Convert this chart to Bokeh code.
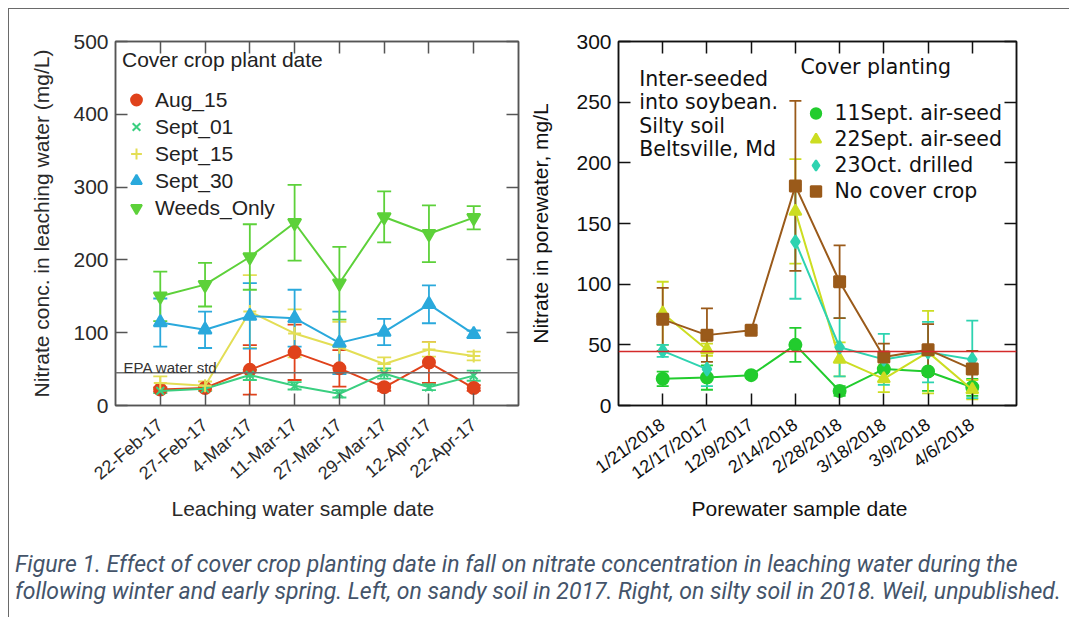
import math
from bokeh.plotting import figure
from bokeh.models import (Range1d, LinearAxis, FixedTicker, Whisker, TeeHead, Title,
                          ColumnDataSource, Legend, LegendItem, Span, Label, Div)
from bokeh.layouts import row, column
from bokeh.embed import file_html
from bokeh.resources import INLINE

NaN = float("nan")

# ---------------- Left panel data (sandy soil, 2017) ----------------
left_dates = ["22-Feb-17", "27-Feb-17", "4-Mar-17", "11-Mar-17",
              "27-Mar-17", "29-Mar-17", "12-Apr-17", "22-Apr-17"]
aug_15 = [22, 24, 49, 73, 51, 25, 59, 24]
aug_15_err = [3, 3, 34, 38, 25, 5, 28, 4]
sept_01 = [20, 23, 42, 27, 16, 44, 25, 41]
sept_01_err = [3, 3, 7, 5, 5, 7, 4, 7]
sept_15 = [31, 27, 129, 99, 80, 57, 77, 68]
sept_15_err = [9, 6, 50, 33, 35, 9, 10, 6]
sept_30 = [114, 104, 123, 120, 86, 101, 139, 98]
sept_30_err = [33, 25, 45, 39, 43, 18, 26, 5]
weeds_only = [150, 166, 204, 251, 168, 259, 236, 258]
weeds_only_err = [34, 30, 45, 52, 50, 35, 39, 16]
left_yticks = [0, 100, 200, 300, 400, 500]
epa_std = 45

# ---------------- Right panel data (silty soil, 2018) ----------------
right_dates = ["1/21/2018", "12/17/2017", "12/9/2017", "2/14/2018",
               "2/28/2018", "3/18/2018", "3/9/2018", "4/6/2018"]
sept11_air = [22, 23, 25, 50, 12, 30, 28, 15]
sept11_air_err = [6, 10, 2, 14, 4, 10, 16, 7]
sept22_air = [76, 46, NaN, 160, 38, 22, 44, 13]
sept22_air_err = [26, 5, NaN, 43, 14, 11, 34, 8]
oct23_drilled = [45, 30, NaN, 135, 48, 38, 44, 38]
oct23_drilled_err = [5, 14, NaN, 47, 24, 21, 25, 32]
no_cover = [71, 58, 62, 181, 102, 40, 46, 30]
no_cover_err = [26, 22, 2, 70, 30, 11, 21, 15]
right_yticks = [0, 50, 100, 150, 200, 250, 300]
porewater_std = 44.5

AX_FONT = "Liberation Sans"
LEG_FONT = "DejaVu Sans"


def style_axis(ax, color, text_color, size="21px"):
    ax.axis_line_color = color
    ax.axis_line_width = 1.5
    ax.major_tick_line_color = color
    ax.major_tick_line_width = 1.5
    ax.major_tick_in = 12
    ax.major_tick_out = 0
    ax.minor_tick_line_color = None
    ax.major_label_text_font = AX_FONT
    ax.major_label_text_font_size = size
    ax.major_label_text_color = text_color
    ax.major_label_standoff = 7
    ax.axis_label_text_font = AX_FONT
    ax.axis_label_text_font_size = "21px"
    ax.axis_label_text_font_style = "normal"
    ax.axis_label_text_color = text_color
    ax.axis_label_standoff = 14


def mirror(p, side, ticks, color):
    ax = LinearAxis(ticker=FixedTicker(ticks=ticks),
                    major_label_overrides={t: "" for t in ticks})
    style_axis(ax, color, color, size="1px")
    ax.major_label_standoff = 0
    p.add_layout(ax, side)


def build(p, xs, dates, yticks, color, text_color, xlabel, xlabel_offset, ylabel, orient, ylab_standoff):
    bx = p.below[0]
    ly = p.left[0]
    bx.ticker = FixedTicker(ticks=xs)
    bx.major_label_overrides = {x: d for x, d in zip(xs, dates)}
    ly.ticker = FixedTicker(ticks=yticks)
    style_axis(bx, color, text_color, size="18px")
    style_axis(ly, color, text_color)
    bx.major_label_orientation = orient
    bx.major_label_standoff = 17
    ly.axis_label_standoff = ylab_standoff
    ly.axis_label = ylabel
    # x-axis title below the tick labels, shifted as in the reference
    p.add_layout(Title(text=xlabel, align="left", offset=xlabel_offset, text_font=AX_FONT,
                       text_font_size="21px", text_font_style="normal", text_color=text_color,
                       standoff=0), "below")
    mirror(p, "above", xs, color)
    mirror(p, "right", yticks, color)
    p.xgrid.visible = False
    p.ygrid.visible = False
    p.outline_line_color = color
    p.outline_line_width = 1.5
    p.background_fill_color = "white"
    p.border_fill_color = "white"


def add_series(p, xs, vals, errs, color, marker, size, cap):
    lo = [v - e for v, e in zip(vals, errs)]
    hi = [v + e for v, e in zip(vals, errs)]
    src = ColumnDataSource(dict(x=xs, y=vals, lo=lo, hi=hi))
    p.add_layout(Whisker(source=src, base="x", upper="hi", lower="lo",
                         line_color=color, line_width=1.8,
                         upper_head=TeeHead(size=cap, line_color=color, line_width=1.8),
                         lower_head=TeeHead(size=cap, line_color=color, line_width=1.8)))
    p.line("x", "y", source=src, line_color=color, line_width=2)
    r = p.scatter("x", "y", source=src, marker=marker, size=size,
                  fill_color=color, line_color=color, line_width=2)
    return r


# ---------------- Left figure ----------------
xs = list(range(1, 9))
p1 = figure(width=517, height=510, x_range=Range1d(0, 9), y_range=Range1d(0, 500),
            output_backend="svg", toolbar_location=None,
            min_border_left=106, min_border_right=8, min_border_top=32, min_border_bottom=108)
build(p1, xs, left_dates, left_yticks, "#555555", "#2a2a2a",
      "Leaching water sample date", 56,
      "Nitrate conc. in leaching water (mg/L)", 0.70, 17)

p1.add_layout(Span(location=epa_std, dimension="width", line_color="#707070", line_width=1.5))
p1.add_layout(Label(x=0.18, y=epa_std + 7, text="EPA water std", text_font=AX_FONT,
                    text_font_size="15px", text_color="#333333", text_baseline="alphabetic"))

left_series = [
    ("Aug_15", aug_15, aug_15_err, "#E0421B", "circle", 12),
    ("Sept_01", sept_01, sept_01_err, "#3ACF80", "x", 11),
    ("Sept_15", sept_15, sept_15_err, "#E3DE55", "cross", 13),
    ("Sept_30", sept_30, sept_30_err, "#2AA9DC", "triangle", 13),
    ("Weeds_Only", weeds_only, weeds_only_err, "#5DD13A", "inverted_triangle", 13),
]
items1 = []
for name, v, e, c, m, s in left_series:
    r = add_series(p1, xs, v, e, c, m, s, 14)
    items1.append(LegendItem(label=name, renderers=[r]))

leg1 = Legend(items=items1, location="top_left", title="Cover crop plant date",
              title_text_font=AX_FONT, title_text_font_size="21px",
              title_text_font_style="normal", title_text_color="#222222",
              label_text_font=AX_FONT, label_text_font_size="21px", label_text_color="#222222",
              glyph_width=28, glyph_height=27, label_height=27, spacing=0,
              label_standoff=5, padding=7, margin=0, title_standoff=14,
              background_fill_alpha=0, border_line_alpha=0)
p1.add_layout(leg1)

# ---------------- Right figure ----------------
p2 = figure(width=534, height=510, x_range=Range1d(0, 9), y_range=Range1d(0, 300),
            output_backend="svg", toolbar_location=None,
            min_border_left=92, min_border_right=44, min_border_top=31, min_border_bottom=107)
build(p2, xs, right_dates, right_yticks, "#111111", "#111111",
      "Porewater sample date", 73,
      "Nitrate in porewater, mg/L", 0.62, 21)

p2.add_layout(Span(location=porewater_std, dimension="width", line_color="#D42A2A", line_width=1.5))
p2.add_layout(Label(x=0.47, y=279, text="Inter-seeded\ninto soybean.\nSilty soil\nBeltsville, Md",
                    text_font=LEG_FONT, text_font_size="20.5px", text_color="#111111",
                    text_baseline="top", text_line_height=0.97))

right_series = [
    ("11Sept. air-seed", sept11_air, sept11_air_err, "#22CC2E", "circle", 12),
    ("22Sept. air-seed", sept22_air, sept22_air_err, "#CCDD22", "triangle", 12),
    ("23Oct. drilled", oct23_drilled, oct23_drilled_err, "#2ED3B0", "diamond", 13),
    ("No cover crop", no_cover, no_cover_err, "#9A5A1A", "square", 11),
]
items2 = []
for name, v, e, c, m, s in right_series:
    r = add_series(p2, xs, v, e, c, m, s, 12)
    items2.append(LegendItem(label=name, renderers=[r]))

leg2 = Legend(items=items2, location="top_right", title="Cover planting",
              title_text_font=LEG_FONT, title_text_font_size="20.5px",
              title_text_font_style="normal", title_text_color="#111111",
              label_text_font=LEG_FONT, label_text_font_size="20.5px", label_text_color="#111111",
              glyph_width=30, glyph_height=26, label_height=26, spacing=0,
              label_standoff=4, padding=0, margin=14, title_standoff=21,
              background_fill_alpha=0, border_line_alpha=0)
p2.add_layout(leg2)

# ---------------- Caption ----------------
caption_text = ("Figure 1. Effect of cover crop planting date in fall on nitrate concentration "
                "in leaching water during the<br>following winter and early spring. Left, on sandy "
                "soil in 2017. Right, on silty soil in 2018. Weil, unpublished.")
caption = Div(text=('<div style="font-family: Roboto, \'Open Sans\', sans-serif; '
                    'font-style: italic; font-size: 23px; color: #44546A; line-height: 27px; '
                    'padding-top: 27px; padding-left: 1px; white-space: nowrap;">'
                    + caption_text + '</div>'),
              width=1050, height=88)

layout = column(row(p1, p2), caption, margin=(8, 0, 0, 8),
                styles={"border-top": "1.5px solid #6a6a6a", "border-left": "1.5px solid #6a6a6a"})

with open("out.html", "w") as f:
    f.write(file_html(layout, INLINE))
